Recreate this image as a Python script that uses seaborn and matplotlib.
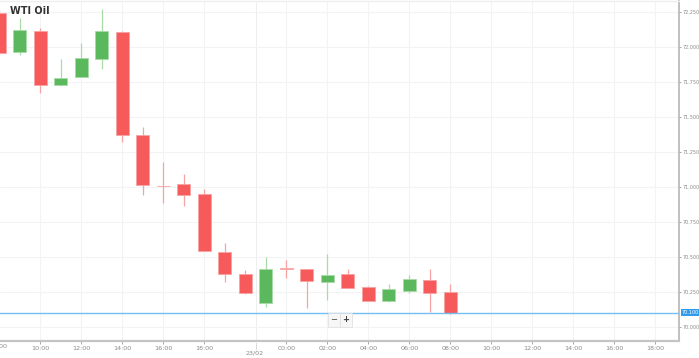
import matplotlib
matplotlib.use("Agg")
import matplotlib.pyplot as plt
import seaborn as sns
import numpy as np

# ---- data (hourly candles, WTI Oil) ----
slots = [-1, 0, 1, 2, 3, 4, 5, 6, 7, 8, 9, 10, 11, 12, 13, 14, 15, 16, 17, 18, 19, 20, 21]
opens = [72.240, 71.964, 72.114, 71.726, 71.784, 71.910, 72.103, 71.369, 71.008, 71.021, 70.946,
         70.534, 70.374, 70.167, 70.419, 70.410, 70.321, 70.376, 70.286, 70.181, 70.257, 70.334, 70.246]
highs = [72.260, 72.203, 72.131, 71.912, 72.029, 72.269, 72.110, 71.429, 71.179, 71.091, 70.981,
         70.600, 70.405, 70.500, 70.476, 70.412, 70.519, 70.410, 70.292, 70.305, 70.371, 70.410, 70.303]
lows = [71.940, 71.941, 71.671, 71.720, 71.780, 71.843, 71.321, 70.941, 70.881, 70.864, 70.540,
        70.321, 70.236, 70.143, 70.350, 70.136, 70.191, 70.279, 70.186, 70.174, 70.243, 70.107, 70.090]
closes = [71.957, 72.119, 71.726, 71.779, 71.919, 72.110, 71.371, 71.012, 71.002, 70.939, 70.541,
          70.376, 70.239, 70.414, 70.415, 70.329, 70.371, 70.279, 70.186, 70.269, 70.341, 70.239, 70.100]

tick_slots = [-1, 1, 3, 5, 7, 9, 13, 15, 17, 19, 21, 23, 25, 27, 29, 31]
tick_labels = ["08:00", "10:00", "12:00", "14:00", "16:00", "18:00", "00:00", "02:00", "04:00",
               "06:00", "08:00", "10:00", "12:00", "14:00", "16:00", "18:00"]
y_ticks = [70.0, 70.25, 70.5, 70.75, 71.0, 71.25, 71.5, 71.75, 72.0, 72.25]
day_sep = 11.5
day_label = "23/02"
last_price = 70.100
title = "WTI Oil"

sns.set_theme(style="white")
plt.rcParams['font.family'] = ['DejaVu Sans']

W, H = 699, 358
fig = plt.figure(figsize=(W / 100, H / 100), dpi=100)
ax = fig.add_axes([0, (H - 341) / H, 679 / W, 340 / H])

ax.set_xlim(-0.966, 32.16)
ax.set_ylim(69.898, 72.326)

red, green = "#f75a5a", "#5cb85c"
red_w, green_w = "#f8a3a3", "#a9dba9"

# grid
for t in tick_slots:
    ax.axvline(t, color="#f3f3f3", lw=0.8, zorder=0)
ax.axvline(day_sep, color="#eeeeee", lw=0.8, zorder=0)
for v in y_ticks:
    ax.axhline(v, color="#f3f3f3", lw=0.8, zorder=0)

# candles
for s, o, h, l, c in zip(slots, opens, highs, lows, closes):
    up = c >= o
    col = green if up else red
    wcol = green_w if up else red_w
    ax.vlines(s, l, h, color=wcol, lw=0.9, zorder=2)
    bot, top = min(o, c), max(o, c)
    height = max(top - bot, 0.004)
    ax.bar(s, height, bottom=bot if top - bot > 0.004 else bot - 0.002, width=0.63,
           color=col if top - bot > 0.01 else wcol, edgecolor=wcol, linewidth=0.6, zorder=3)

# last price line
ax.axhline(last_price, color="#72bdf2", lw=1.0, zorder=4)

# spines
for sp in ["left", "top"]:
    ax.spines[sp].set_visible(False)
ax.spines["right"].set_color("#b5b5b5")
ax.spines["right"].set_linewidth(1.2)
ax.spines["bottom"].set_color("#c4c4c4")
ax.spines["bottom"].set_linewidth(1.6)

# y ticks on the right
ax.yaxis.tick_right()
ax.set_yticks(y_ticks)
ax.set_yticklabels([f"{v:.3f}" for v in y_ticks])
ax.tick_params(axis="y", length=1.5, width=0.6, color="#999999", labelsize=3.5,
               labelcolor="#8a8a8a", pad=0.8, right=True)
# x ticks
vis = [(t, lab) for t, lab in zip(tick_slots, tick_labels) if t > -0.966]
ax.set_xticks([t for t, _ in vis])
ax.set_xticklabels([lab for _, lab in vis])
ax.tick_params(axis="x", length=2, width=0.6, color="#999999", labelsize=4.6,
               labelcolor="#8a8a8a", pad=1.5, bottom=True)
# clipped first label at left edge (only its tail is visible)
fig.text(-1 / W, 1 - 347 / H, tick_labels[0], ha="center", va="center",
         fontsize=4.6, color="#8a8a8a")
# day label
fig.text(255 / W, 1 - 353 / H, day_label, ha="center", va="center",
         fontsize=4.6, color="#8a8a8a")
ax.plot([day_sep, day_sep], [-0.005, -0.025], transform=ax.get_xaxis_transform(),
        color="#aaaaaa", lw=0.6, ls=(0, (1, 1)), clip_on=False)

# last price label box
ax.text(1.004, last_price, f"{last_price:.3f}", transform=ax.get_yaxis_transform(),
        ha="left", va="center", fontsize=3.5, color="white", clip_on=False,
        bbox=dict(boxstyle="square,pad=0.2", fc="#2f9bea", ec="none"))

# title
fig.text(10 / W, 1 - 11 / H, title, fontsize=7, fontweight="bold", color="#333333",
         ha="left", va="center")

# zoom buttons
fig.text(334 / W, 1 - 320 / H, "\u2212", fontsize=6, color="#444444", ha="center", va="center",
         bbox=dict(boxstyle="square,pad=0.3", fc="#f7f7f7", ec="#dddddd", lw=0.5))
fig.text(346 / W, 1 - 320 / H, "+", fontsize=6, color="#444444", ha="center", va="center",
         fontweight="bold",
         bbox=dict(boxstyle="square,pad=0.3", fc="#f7f7f7", ec="#dddddd", lw=0.5))

# top border
fig.add_artist(plt.Line2D([0, 679 / W], [1 - 0.5 / H, 1 - 0.5 / H], color="#eeeeee", lw=1))

fig.savefig("out.png", dpi=100)
